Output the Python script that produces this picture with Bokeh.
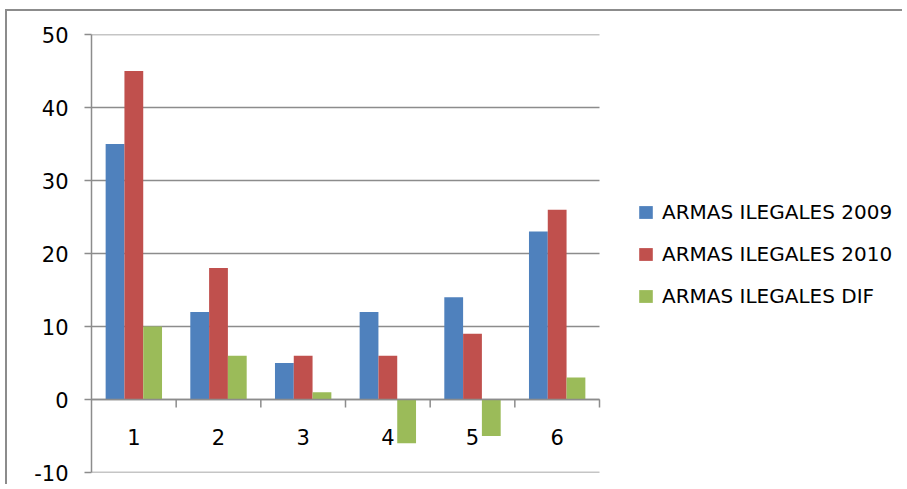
import math
from bokeh.plotting import figure
from bokeh.models import Range1d, FixedTicker, Legend, LegendItem, ColumnDataSource
from bokeh.core.properties import value
from bokeh.embed import file_html
from bokeh.resources import INLINE
from bokeh.transform import dodge

# ---- data ----
categories = [1, 2, 3, 4, 5, 6]
cat_labels = ["1", "2", "3", "4", "5", "6"]
armas_2009 = [35, 12, 5, 12, 14, 23]
armas_2010 = [45, 18, 6, 6, 9, 26]
armas_dif = [10, 6, 1, -6, -5, 3]
series_names = ["ARMAS ILEGALES 2009", "ARMAS ILEGALES 2010", "ARMAS ILEGALES DIF"]
y_ticks = [-10, 0, 10, 20, 30, 40, 50]

# ---- style ----
colors = ["#4F81BD", "#C0504D", "#9BBB59"]
GREY = "#8c8c8c"
LW = 1.5
FONT = "DejaVu Sans"
bar_w = 0.222

W, H = 897, 475
LEFT, TOP, BOTTOM = 84, 23, 14
PLOT_W = 508                      # width of the category area in px
FRAME_W = W - LEFT                # frame extends to the right edge (legend lives there)
x_lo = min(categories) - 0.5
x_hi_cat = max(categories) + 0.5
x_hi = x_lo + (x_hi_cat - x_lo) * FRAME_W / PLOT_W

src = ColumnDataSource(dict(x=categories, s0=armas_2009, s1=armas_2010, s2=armas_dif))

p = figure(width=W, height=H, output_backend="svg", toolbar_location=None,
           x_range=Range1d(x_lo, x_hi), y_range=Range1d(min(y_ticks), max(y_ticks)),
           min_border_left=LEFT, min_border_top=TOP, min_border_bottom=BOTTOM, min_border_right=0)
p.styles = {"border-left": "2px solid #8c8c8c", "border-top": "2px solid #8c8c8c",
            "margin-left": "5px", "margin-top": "9px"}
p.outline_line_color = None
p.background_fill_color = "white"
p.border_fill_color = "white"

# axes
p.xgrid.visible = False
p.ygrid.visible = False
p.xaxis.visible = False
p.yaxis.ticker = FixedTicker(ticks=y_ticks)
p.yaxis.major_label_overrides = {t: str(t) for t in y_ticks}
p.yaxis.axis_line_color = GREY
p.yaxis.axis_line_width = LW
p.yaxis.major_tick_line_color = GREY
p.yaxis.major_tick_line_width = LW
p.yaxis.major_tick_out = 7
p.yaxis.major_tick_in = 0
p.yaxis.minor_tick_out = 0
p.yaxis.minor_tick_in = 0
p.yaxis.major_label_standoff = 16
p.yaxis.major_label_text_font = FONT
p.yaxis.major_label_text_font_size = "21px"
p.yaxis.major_label_text_color = "black"

# horizontal gridlines only over the category area
p.segment(x0=[x_lo] * len(y_ticks), x1=[x_hi_cat] * len(y_ticks), y0=y_ticks, y1=y_ticks,
          line_color=GREY, line_width=LW)

# bars
offsets = [-bar_w, 0.0, bar_w]
renderers = []
for i, (col, off) in enumerate(zip(colors, offsets)):
    r = p.vbar(x=dodge("x", off, range=p.x_range), top=f"s{i}", bottom=0, width=bar_w,
               source=src, fill_color=col, line_color=None)
    renderers.append(r)

# category axis at zero
p.segment(x0=[x_lo], x1=[x_hi_cat], y0=[0], y1=[0], line_color=GREY, line_width=LW)
bounds = [c + 0.5 for c in categories]
p.ray(x=bounds, y=[0] * len(bounds), length=8, length_units="screen", angle=-math.pi / 2,
      line_color=GREY, line_width=LW)
p.text(x=categories, y=[0] * len(categories), text=cat_labels, y_offset=37,
       text_align="center", text_baseline="middle", text_font=value(FONT),
       text_font_size="21px", text_color="black")

legend = Legend(items=[LegendItem(label=n, renderers=[r]) for n, r in zip(series_names, renderers)],
                location=(546, 164), label_text_font=FONT, label_text_font_size="20px",
                label_text_color="black", border_line_color=None, background_fill_alpha=0,
                padding=0, margin=0, spacing=18, label_standoff=8, glyph_width=17, glyph_height=16)
p.add_layout(legend, "center")

open("out.html", "w").write(file_html(p, INLINE))
